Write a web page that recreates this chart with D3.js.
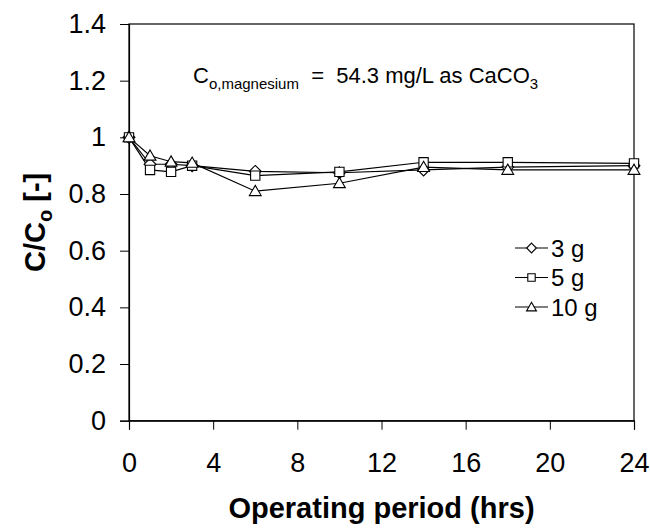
<!DOCTYPE html>
<html>
<head>
<meta charset="utf-8">
<script src="https://cdn.jsdelivr.net/npm/d3@7"></script>
<style>
  body { margin: 0; background: #fff; }
  svg text { font-family: Arial, "Liberation Sans", sans-serif; fill: #000; }
</style>
</head>
<body>
<script>
// operating time (hrs)
var hours = [0, 1, 2, 3, 6, 10, 14, 18, 24];
// C/Co for each media dose
var dose3g  = [1.0, 0.905, 0.905, 0.90, 0.88, 0.875, 0.885, 0.895, 0.90];
var dose5g  = [1.0, 0.885, 0.878, 0.90, 0.865, 0.878, 0.912, 0.912, 0.908];
var dose10g = [1.0, 0.935, 0.914, 0.91, 0.81, 0.838, 0.895, 0.885, 0.885];
var seriesNames = ["3 g", "5 g", "10 g"];
var xTicks = [0, 4, 8, 12, 16, 20, 24];
var yTicks = [0, 0.2, 0.4, 0.6, 0.8, 1, 1.2, 1.4];

var width = 650, height = 532;
// plot box (note: "top" is taken by window.top)
var plotL = 129, plotR = 634, plotT = 24, plotB = 420.7;

var svg = d3.select("body").append("svg")
    .attr("width", width)
    .attr("height", height);

var x = d3.scaleLinear().domain([0, 24]).range([plotL, plotR]);
var y = d3.scaleLinear().domain([0, 1.4]).range([plotB, plotT]);

// plot frame
svg.append("rect")
    .attr("x", plotL).attr("y", plotT)
    .attr("width", plotR - plotL).attr("height", plotB - plotT)
    .style("fill", "none").style("stroke", "#000").style("stroke-width", 1.2);

// axes
var xAxis = svg.append("g")
    .attr("transform", "translate(0," + plotB + ")")
    .call(d3.axisBottom(x).tickValues(xTicks).tickSizeOuter(0).tickSize(9).tickPadding(23));
var yAxis = svg.append("g")
    .attr("transform", "translate(" + plotL + ",0)")
    .call(d3.axisLeft(y).tickValues(yTicks).tickSizeOuter(0).tickSize(9).tickPadding(14)
        .tickFormat(function (d) { return d3.format("~g")(d); }));

[xAxis, yAxis].forEach(function (g) {
    g.select(".domain").style("stroke", "#000").style("stroke-width", 1.2);
    g.selectAll(".tick line").style("stroke", "#000").style("stroke-width", 1);
    g.selectAll(".tick text").style("font-size", "27px").style("font-family", "Arial, 'Liberation Sans', sans-serif").attr("fill", "#000");
});

// marker shapes
var markers = [
    d3.symbol().type(d3.symbolDiamond2).size(90),
    d3.symbol().type(d3.symbolSquare2).size(110),
    d3.symbol().type(d3.symbolTriangle2).size(100)
];
var legendMarkers = [
    d3.symbol().type(d3.symbolDiamond2).size(60),
    d3.symbol().type(d3.symbolSquare2).size(70),
    d3.symbol().type(d3.symbolTriangle2).size(70)
];

var allSeries = [dose3g, dose5g, dose10g];
var line = d3.line()
    .x(function (d, i) { return x(hours[i]); })
    .y(function (d) { return y(d); });

allSeries.forEach(function (vals, s) {
    svg.append("path")
        .datum(vals)
        .attr("d", line)
        .style("fill", "none").style("stroke", "#000").style("stroke-width", 1.2);
});
allSeries.forEach(function (vals, s) {
    svg.selectAll(".m" + s)
        .data(vals)
        .enter().append("path")
        .attr("class", "m" + s)
        .attr("transform", function (d, i) {
            return "translate(" + x(hours[i]) + "," + (y(d) + (s == 2 ? 1 : 0)) + ")";
        })
        .attr("d", markers[s])
        .style("fill", "#fff").style("stroke", "#000").style("stroke-width", 1.1);
});

// legend
var legend = svg.append("g").attr("transform", "translate(515,248)");
seriesNames.forEach(function (name, i) {
    var row = legend.append("g").attr("transform", "translate(0," + i * 29.5 + ")");
    row.append("line").attr("x1", 0).attr("x2", 33).attr("y1", 0).attr("y2", 0)
        .style("stroke", "#000").style("stroke-width", 1.2);
    row.append("path").attr("d", legendMarkers[i])
        .attr("transform", "translate(16.5," + (i == 2 ? 1 : 0) + ")")
        .style("fill", "#fff").style("stroke", "#000").style("stroke-width", 1.1);
    row.append("text").attr("x", 36).attr("y", 8.5)
        .style("font-size", "24px").text(name);
});

// annotation
var note = svg.append("text").attr("x", 193).attr("y", 83).style("font-size", "22px");
note.append("tspan").text("C");
note.append("tspan").attr("dy", 6).style("font-size", "15px").text("o,magnesium");
note.append("tspan").attr("dy", -6).text("  =  54.3 mg/L as CaCO").attr("xml:space", "preserve");
note.append("tspan").attr("dy", 6).style("font-size", "15px").text("3");

// axis titles
svg.append("text")
    .attr("x", (plotL + plotR) / 2).attr("y", 518)
    .attr("text-anchor", "middle")
    .style("font-size", "29px").style("font-weight", "bold")
    .text("Operating period (hrs)");

var yTitle = svg.append("text")
    .attr("transform", "translate(45," + (plotT + plotB) / 2 + ") rotate(-90)")
    .attr("text-anchor", "middle")
    .style("font-size", "29px").style("font-weight", "bold");
yTitle.append("tspan").text("C/C");
yTitle.append("tspan").attr("dy", 7).style("font-size", "20px").text("o");
yTitle.append("tspan").attr("dy", -7).text(" [-]");
</script>
</body>
</html>
